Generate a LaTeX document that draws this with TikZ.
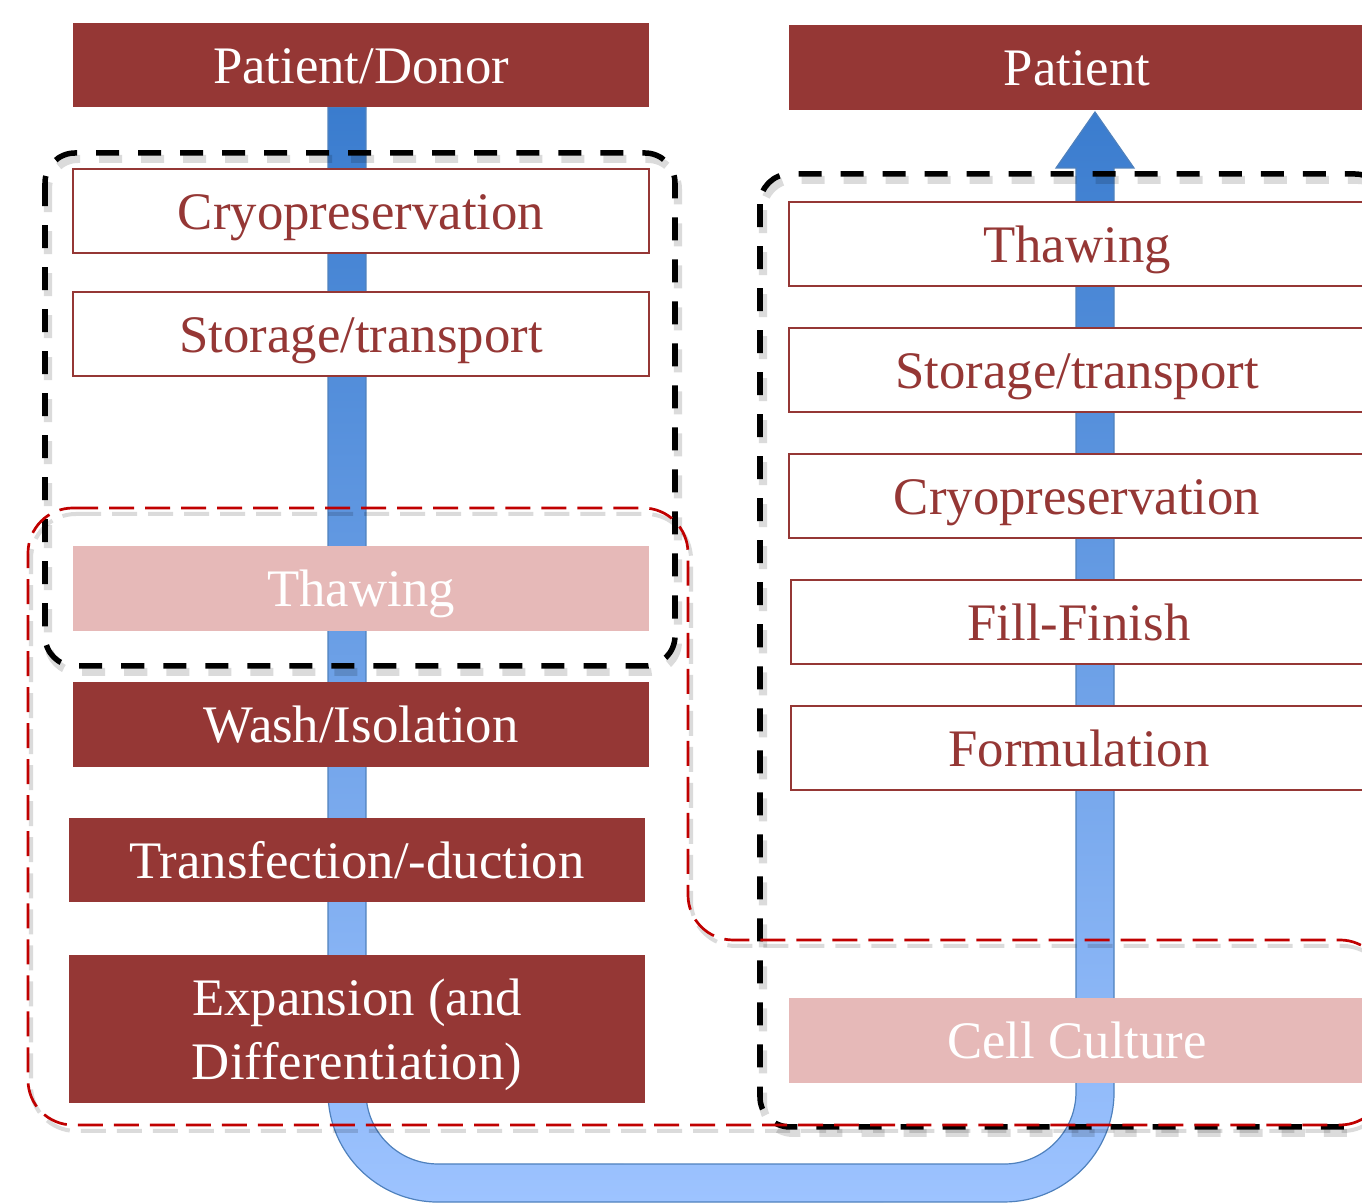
\documentclass[tikz,border=0pt]{standalone}
\usepackage{fontspec}
\setmainfont{Liberation Serif}
\usetikzlibrary{calc,backgrounds}
\definecolor{boxred}{RGB}{149,55,53}
\definecolor{boxpink}{RGB}{230,185,184}
\definecolor{dashred}{RGB}{192,0,0}
\definecolor{flowtop}{RGB}{58,124,206}
\definecolor{flowbottom}{RGB}{157,195,255}
\definecolor{flowline}{RGB}{79,129,189}
\tikzset{
  stage/.style={minimum width=5.76cm, minimum height=.84cm, inner sep=0pt, outer sep=0pt,
    text height=.5cm, text depth=.13cm, font=\fontsize{15}{18}\selectfont, align=center},
  darkstage/.style={stage, fill=boxred, text=white},
  openstage/.style={stage, fill=white, draw=boxred, line width=.015cm, text=boxred},
  pinkstage/.style={stage, fill=boxpink, text=white},
  flowarrow/.style={top color=flowtop, bottom color=flowbottom, draw=flowline, line width=.012cm},
  blackgroup/.style={draw=black, line width=.055cm, dash pattern=on .23cm off .19cm, rounded corners=.3cm},
  redgroup/.style={draw=dashred, line width=.027cm, dash pattern=on .25cm off .11cm, rounded corners=.45cm},
  groupshadow/.style={draw=black, draw opacity=.14, line width=.08cm, dash pattern=on .23cm off .19cm, rounded corners=.3cm}
}
\begin{document}
\begin{tikzpicture}[x=.01cm, y=-.01cm]
\useasboundingbox (0,0) rectangle (1362,1204);
\clip (0,0) rectangle (1362,1204);

% left column
\node[darkstage] (donor) at (361,65) {Patient/Donor};
\node[openstage] (cryoL) at (361,211) {Cryopreservation};
\node[openstage] (storeL) at (361,334) {Storage/transport};
\node[pinkstage, minimum height=.85cm] (thawL) at (361,588.5) {Thawing};
\node[darkstage] (wash) at (361,724.5) {Wash/Isolation};
\node[darkstage] (transf) at (357,860) {Transfection/-duction};
\node[darkstage, minimum height=1.48cm, text height=1.135cm] (expan) at (357,1029) {Expansion (and\\Differentiation)};

% right column
\node[darkstage, minimum height=.85cm] (patient) at (1077,67.5) {Patient};
\foreach \x/\y/\name/\txt in {1077/244/thawR/Thawing, 1077/370/storeR/{Storage/transport},
    1077/496/cryoR/Cryopreservation, 1079/622/fill/Fill-Finish, 1079/748/formul/Formulation}
{
    \node[openstage] (\name) at (\x,\y) {\txt};
}
\node[pinkstage] (culture) at (1077,1040.5) {Cell Culture};

% flow from donor to patient
\begin{scope}[on background layer]
\path[flowarrow] ($(donor.south)+(-33,0)$) -- (328,1092) arc[start angle=180, end angle=270, radius=1.1cm]
    -- (1004,1202) arc[start angle=270, end angle=360, radius=1.1cm]
    -- (1114,168) -- (1134,168) -- ($(patient.south)+(18,2)$) -- (1056,168) -- (1076,168)
    -- (1076,1092) arc[start angle=0, end angle=-90, radius=.72cm]
    -- (438,1164) arc[start angle=270, end angle=180, radius=.72cm]
    -- ($(donor.south)+(5,0)$) -- cycle;
\end{scope}

% groups
\draw[groupshadow, shift={(3,6)}] (45,153) rectangle (675,666);
\draw[groupshadow, shift={(3,6)}] (760,174) rectangle (1385,1127);
\draw[groupshadow, line width=.04cm, dash pattern=on .25cm off .11cm, rounded corners=.45cm, shift={(3,6)}]
    (28,508) -- (688,508) -- (688,940) -- (1385,940) -- (1385,1125) -- (28,1125) -- cycle;
\draw[blackgroup] (45,153) rectangle (675,666);
\draw[blackgroup] (760,174) rectangle (1385,1127);
\draw[redgroup] (28,508) -- (688,508) -- (688,940) -- (1385,940) -- (1385,1125) -- (28,1125) -- cycle;
\end{tikzpicture}
\end{document}
